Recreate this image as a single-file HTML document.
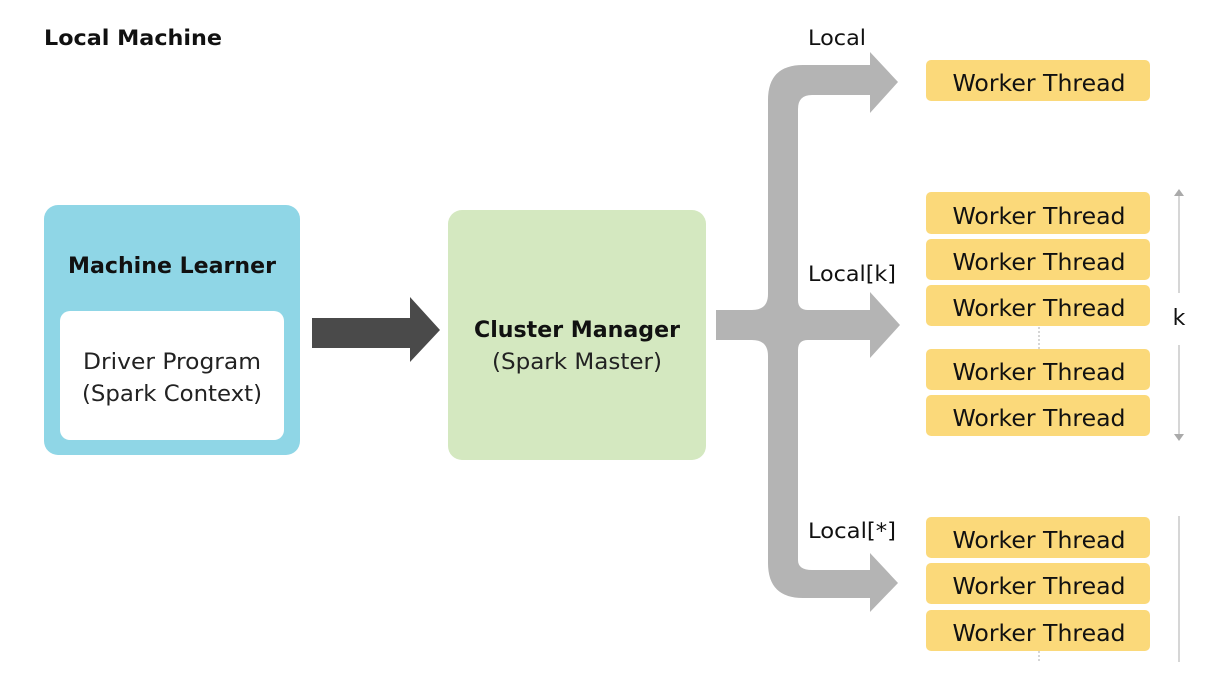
<!DOCTYPE html>
<html><head><style>body{margin:0;background:#fff}svg{display:block}</style></head>
<body>
<svg width="1206" height="693" xmlns="http://www.w3.org/2000/svg" font-family="DejaVu Sans, Liberation Sans, sans-serif">
<rect width="1206" height="693" fill="#fff"/>
<text x="44" y="45" font-size="21" font-weight="bold" fill="#111" textLength="178" lengthAdjust="spacingAndGlyphs">Local Machine</text>
<rect x="44" y="205" width="256" height="250" rx="14" fill="#8fd6e6"/>
<text x="172" y="273" font-size="22" font-weight="bold" text-anchor="middle" fill="#111" textLength="208" lengthAdjust="spacingAndGlyphs">Machine Learner</text>
<rect x="60" y="311" width="224" height="129" rx="10" fill="#fff"/>
<text x="172" y="369" font-size="22" text-anchor="middle" fill="#222" textLength="178" lengthAdjust="spacingAndGlyphs">Driver Program</text>
<text x="172" y="401" font-size="22" text-anchor="middle" fill="#222" textLength="180" lengthAdjust="spacingAndGlyphs">(Spark Context)</text>
<polygon points="312,318 410,318 410,297 440,330 410,362 410,348 312,348" fill="#4a4a4a"/>
<rect x="448" y="210" width="258" height="250" rx="14" fill="#d4e8c0"/>
<text x="577" y="337" font-size="22" font-weight="bold" text-anchor="middle" fill="#111" textLength="206" lengthAdjust="spacingAndGlyphs">Cluster Manager</text>
<text x="577" y="369" font-size="22" text-anchor="middle" fill="#222" textLength="170" lengthAdjust="spacingAndGlyphs">(Spark Master)</text>
<g fill="#b4b4b4">
<path d="M716,310 L752,310 Q768,310 768,294 L768,100 Q768,65 803,65 L870,65 L870,52 L898,82 L870,113 L870,95 L812,95 Q798,95 798,109 L798,300 Q798,310 808,310 L870,310 L870,292 L900,325 L870,358 L870,340 L808,340 Q798,340 798,350 L798,560 Q798,570 812,570 L870,570 L870,553 L898,583 L870,612 L870,598 L803,598 Q768,598 768,563 L768,356 Q768,340 752,340 L716,340 Z"/>
</g>
<g font-size="21" fill="#111">
<text x="808" y="45" textLength="58" lengthAdjust="spacingAndGlyphs">Local</text>
<text x="808" y="281" textLength="88" lengthAdjust="spacingAndGlyphs">Local[k]</text>
<text x="808" y="538" textLength="88" lengthAdjust="spacingAndGlyphs">Local[*]</text>
</g>
<g fill="#fbd97a">
<rect x="926" y="60" width="224" height="41" rx="5"/>
<rect x="926" y="192" width="224" height="42" rx="5"/>
<rect x="926" y="239" width="224" height="41" rx="5"/>
<rect x="926" y="285" width="224" height="41" rx="5"/>
<rect x="926" y="349" width="224" height="41" rx="5"/>
<rect x="926" y="395" width="224" height="41" rx="5"/>
<rect x="926" y="517" width="224" height="41" rx="5"/>
<rect x="926" y="563" width="224" height="41" rx="5"/>
<rect x="926" y="610" width="224" height="41" rx="5"/>
</g>
<g font-size="23" fill="#111" text-anchor="middle">
<text x="1039" y="91" textLength="173" lengthAdjust="spacingAndGlyphs">Worker Thread</text>
<text x="1039" y="224" textLength="173" lengthAdjust="spacingAndGlyphs">Worker Thread</text>
<text x="1039" y="270" textLength="173" lengthAdjust="spacingAndGlyphs">Worker Thread</text>
<text x="1039" y="316" textLength="173" lengthAdjust="spacingAndGlyphs">Worker Thread</text>
<text x="1039" y="380" textLength="173" lengthAdjust="spacingAndGlyphs">Worker Thread</text>
<text x="1039" y="426" textLength="173" lengthAdjust="spacingAndGlyphs">Worker Thread</text>
<text x="1039" y="548" textLength="173" lengthAdjust="spacingAndGlyphs">Worker Thread</text>
<text x="1039" y="594" textLength="173" lengthAdjust="spacingAndGlyphs">Worker Thread</text>
<text x="1039" y="641" textLength="173" lengthAdjust="spacingAndGlyphs">Worker Thread</text>
</g>
<g stroke="#bbb" stroke-width="1.2" fill="none">
<line x1="1039" y1="327" x2="1039" y2="349" stroke-dasharray="2,2"/>
<line x1="1039" y1="651" x2="1039" y2="662" stroke-dasharray="2,2"/>
<line x1="1179" y1="192" x2="1179" y2="293"/>
<line x1="1179" y1="345" x2="1179" y2="437"/>
<line x1="1179" y1="516" x2="1179" y2="662"/>
</g>
<polygon points="1174,196 1179,189 1184,196" fill="#aaa"/>
<polygon points="1174,434 1179,441 1184,434" fill="#aaa"/>
<text x="1179" y="325" font-size="22" fill="#111" text-anchor="middle">k</text>
</svg>
</body></html>
